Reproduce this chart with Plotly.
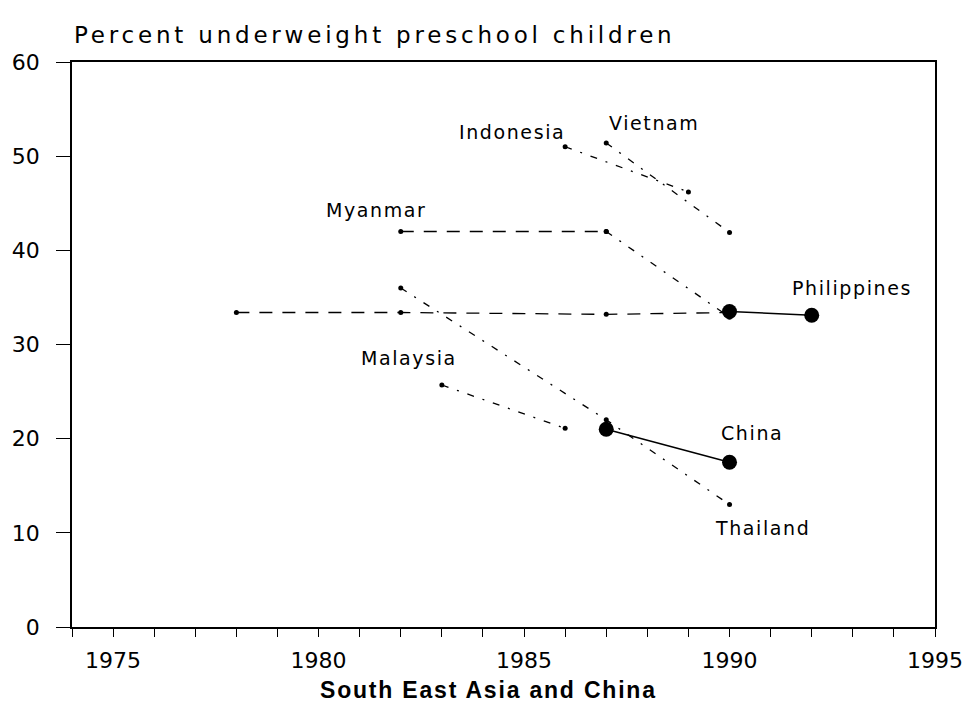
import plotly.graph_objects as go

# ---- data ----
philippines_years = [1978, 1982, 1987, 1990]
philippines_vals = [33.4, 33.4, 33.2, 33.4]
philippines_new_years = [1990, 1992]
philippines_new_vals = [33.5, 33.1]

myanmar_years = [1982, 1987, 1990]
myanmar_vals = [42.0, 42.0, 32.9]

indonesia_years = [1986, 1989]
indonesia_vals = [51.0, 46.2]

vietnam_years = [1987, 1990]
vietnam_vals = [51.4, 41.9]

thailand_years = [1982, 1987, 1990]
thailand_vals = [36.0, 22.0, 13.0]

malaysia_years = [1983, 1986]
malaysia_vals = [25.7, 21.1]

china_years = [1987, 1990]
china_vals = [21.0, 17.5]

label_names = ["Indonesia", "Vietnam", "Myanmar", "Philippines", "Malaysia", "China", "Thailand"]
label_x = [1984.7, 1988.15, 1981.4, 1992.98, 1982.2, 1990.55, 1990.8]
label_y = [52.6, 53.5, 44.3, 36.0, 28.6, 20.6, 10.5]

x_tick_years = list(range(1974, 1996))
y_ticks = [0, 10, 20, 30, 40, 50, 60]

FONT = "DejaVu Sans"
BLACK = "black"
LONG_DASH = "13px,10px"
SPARSE_DASH = "7px,9px,2px,9px"


def spaced(text, px):
    return f'<span style="letter-spacing:{px}px">{text}</span>'


fig = go.Figure()


def add(xs, ys, dash, msize, width=1.3):
    fig.add_trace(go.Scatter(
        x=xs, y=ys, mode="lines+markers",
        line=dict(color=BLACK, width=width, dash=dash),
        marker=dict(color=BLACK, size=msize, symbol="circle"),
        showlegend=False, hoverinfo="x+y",
    ))


add(philippines_years, philippines_vals, LONG_DASH, 5)
add(myanmar_years[:2], myanmar_vals[:2], LONG_DASH, 5)
add(myanmar_years[1:], myanmar_vals[1:], SPARSE_DASH, 5)
add(indonesia_years, indonesia_vals, SPARSE_DASH, 5)
add(vietnam_years, vietnam_vals, SPARSE_DASH, 5)
add(thailand_years, thailand_vals, SPARSE_DASH, 5)
add(malaysia_years, malaysia_vals, SPARSE_DASH, 5)
add(philippines_new_years, philippines_new_vals, "solid", 15, 1.5)
add(china_years, china_vals, "solid", 15, 1.5)

for name, lx, ly in zip(label_names, label_x, label_y):
    fig.add_annotation(x=lx, y=ly, text=spaced(name, 1.6), showarrow=False,
                       font=dict(family=FONT, size=19, color=BLACK),
                       xanchor="center", yanchor="middle")

fig.add_annotation(xref="paper", yref="paper", x=0.0, y=1.0, yshift=27,
                   text=spaced("Percent underweight preschool children", 3.8),
                   showarrow=False, xanchor="left", yanchor="middle",
                   font=dict(family=FONT, size=23, color=BLACK))

fig.add_annotation(xref="paper", yref="paper", x=0.483, y=-0.112,
                   text="<b>" + spaced("South East Asia and China", 1.8) + "</b>",
                   showarrow=False, xanchor="center", yanchor="middle",
                   font=dict(family="Liberation Sans, Arial", size=23, color=BLACK))

fig.update_xaxes(
    range=[1974, 1995], tickmode="array", tickvals=x_tick_years,
    ticktext=[str(y) if y % 5 == 0 else "" for y in x_tick_years],
    ticks="outside", ticklen=8, tickwidth=1.3, tickcolor=BLACK,
    showline=True, linecolor=BLACK, linewidth=1.5, mirror=True,
    showgrid=False, zeroline=False, ticklabelstandoff=5,
    tickfont=dict(family=FONT, size=22, color=BLACK),
)
fig.update_yaxes(
    range=[0, 60], tickmode="array", tickvals=y_ticks,
    ticks="outside", ticklen=14, tickwidth=1.3, tickcolor=BLACK,
    showline=True, linecolor=BLACK, linewidth=1.5, mirror=True,
    showgrid=False, zeroline=False, ticklabelstandoff=12,
    tickfont=dict(family=FONT, size=22, color=BLACK),
)

fig.update_layout(
    width=971, height=710,
    margin=dict(l=64, r=44, t=54, b=91, autoexpand=False),
    plot_bgcolor="white", paper_bgcolor="white",
    showlegend=False,
)

fig.write_html("out.html")
